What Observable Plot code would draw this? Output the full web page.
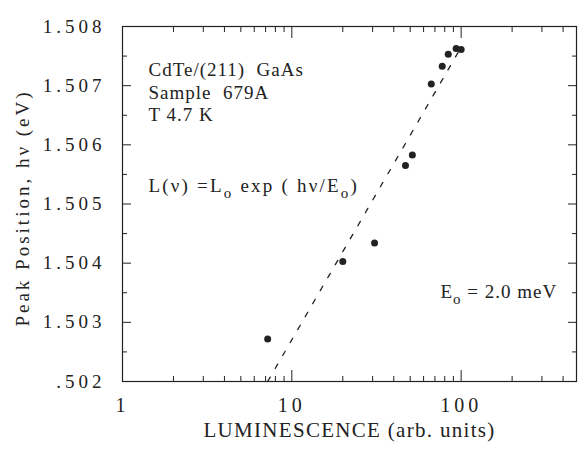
<!DOCTYPE html>
<html><head><meta charset="utf-8">
<script src="https://cdn.jsdelivr.net/npm/d3@7"></script>
<script src="https://cdn.jsdelivr.net/npm/@observablehq/plot@0.6"></script>
<style>
html,body{margin:0;padding:0;background:#fff;}
</style>
</head><body><div id="chart"></div>
<script>
// ---- data ----
const luminescence = [7.2, 20, 30.8, 46.9, 51.5, 66.6, 77.3, 83.9, 93.4, 100];
const peakPosition = [1.50272, 1.50403, 1.50434, 1.50565, 1.50583, 1.50703, 1.50733, 1.50753, 1.50763, 1.50761];
const fitLuminescence = [7.2, 100];
const fitPeak = [1.502, 1.50765];

const yTicks = [1.502, 1.503, 1.504, 1.505, 1.506, 1.507, 1.508];
const yTickLabels = [".502", "1.503", "1.504", "1.505", "1.506", "1.507", "1.508"];
const yMinorTicks = [1.5025, 1.5035, 1.5045, 1.5055, 1.5065, 1.5075];
const xTicks = [1, 10, 100];
const xTickLabels = ["1", "10", "100"];
const xMinorTicks = [2, 3, 4, 5, 6, 7, 8, 9, 20, 30, 40, 50, 60, 70, 80, 90, 200, 300, 400];

const xLabel = "LUMINESCENCE (arb. units)";
const yLabel = "Peak Position, hν (eV)";
const noteLines = ["CdTe/(211)  GaAs", "Sample  679A", "T 4.7 K"];
const formula = "L(ν) =L_o exp ( hν/E_o)";
const e0Note = "E_o = 2.0 meV";

const points = luminescence.map((x, i) => ({x, y: peakPosition[i]}));
const fit = fitLuminescence.map((x, i) => ({x, y: fitPeak[i]}));
const ink = "#222";

const chart = Plot.plot({
  width: 578, height: 449,
  marginLeft: 122, marginRight: 2, marginTop: 26, marginBottom: 68,
  x: {type: "log", domain: [1, 480]},
  y: {domain: [1.502, 1.508]},
  style: {fontFamily: "'Liberation Serif', 'Times New Roman', serif", fontSize: "18px", color: ink, background: "#fff"},
  marks: [
    Plot.frame({stroke: ink, strokeWidth: 1.2}),
    // inward ticks
    Plot.axisY(yTicks, {anchor: "left", tickSize: -9, fill: "none", label: null, stroke: ink}),
    Plot.axisY(yMinorTicks, {anchor: "left", tickSize: -5, fill: "none", label: null, stroke: ink}),
    Plot.axisY(yTicks, {anchor: "right", tickSize: -9, fill: "none", label: null, stroke: ink}),
    Plot.axisY(yMinorTicks, {anchor: "right", tickSize: -5, fill: "none", label: null, stroke: ink}),
    Plot.axisX(xTicks, {anchor: "bottom", tickSize: -11, fill: "none", label: null, stroke: ink}),
    Plot.axisX(xMinorTicks, {anchor: "bottom", tickSize: -5, fill: "none", label: null, stroke: ink}),
    Plot.axisX(xTicks, {anchor: "top", tickSize: -11, fill: "none", label: null, stroke: ink}),
    Plot.axisX(xMinorTicks, {anchor: "top", tickSize: -5, fill: "none", label: null, stroke: ink}),
    // tick labels
    Plot.text(yTicks, {y: d => d, text: (d, i) => yTickLabels[i], frameAnchor: "left", textAnchor: "end", dx: -17, fill: ink, fontSize: 19}),
    Plot.text(xTicks, {x: d => d, text: (d, i) => xTickLabels[i], frameAnchor: "bottom", textAnchor: "middle", dy: 30, fill: ink, fontSize: 20}),
    // axis titles
    Plot.text([xLabel], {frameAnchor: "bottom", textAnchor: "middle", dy: 55, fill: ink, fontSize: 21}),
    Plot.text([yLabel], {frameAnchor: "left", textAnchor: "middle", rotate: -90, dx: -100, dy: 4, fill: ink, fontSize: 19}),
    // fit line and data
    Plot.line(fit, {x: "x", y: "y", stroke: ink, strokeWidth: 1.3, strokeDasharray: "5,10"}),
    Plot.dot(points, {x: "x", y: "y", r: 3.5, fill: ink}),
    // annotations
    Plot.text([noteLines[0]], {frameAnchor: "top-left", textAnchor: "start", dx: 26, dy: 36, fill: ink, fontSize: 19}),
    Plot.text([noteLines[1]], {frameAnchor: "top-left", textAnchor: "start", dx: 26, dy: 59, fill: ink, fontSize: 19}),
    Plot.text([noteLines[2]], {frameAnchor: "top-left", textAnchor: "start", dx: 26, dy: 81, fill: ink, fontSize: 19}),
    Plot.text([formula], {frameAnchor: "top-left", textAnchor: "start", dx: 26, dy: 152, fill: ink, fontSize: 19}),
    Plot.text([e0Note], {frameAnchor: "bottom-right", textAnchor: "start", dx: -136, dy: -84, fill: ink, fontSize: 19})
  ]
});
document.getElementById("chart").appendChild(chart);

// typographic touches: letter spacing and subscripts
chart.querySelectorAll("text").forEach(t => {
  const s = t.textContent;
  if (yTickLabels.includes(s)) t.style.letterSpacing = "4px";
  else if (xTickLabels.includes(s)) t.style.letterSpacing = "4px";
  else if (s === yLabel) t.style.letterSpacing = "3px";
  else if (s === xLabel) t.style.letterSpacing = "1.3px";
  else if (noteLines.includes(s)) t.style.letterSpacing = "1px";
  if (s.includes("_o")) {
    t.style.letterSpacing = s === formula ? "2.2px" : "1px";
    const parts = s.split("_o");
    t.textContent = "";
    parts.forEach((p, i) => {
      const a = document.createElementNS("http://www.w3.org/2000/svg", "tspan");
      a.textContent = p;
      if (i > 0) a.setAttribute("dy", "-6");
      t.appendChild(a);
      if (i < parts.length - 1) {
        const sub = document.createElementNS("http://www.w3.org/2000/svg", "tspan");
        sub.textContent = "o";
        sub.setAttribute("dy", "6");
        sub.setAttribute("font-size", "15");
        t.appendChild(sub);
      }
    });
  }
});
</script>
</body></html>
